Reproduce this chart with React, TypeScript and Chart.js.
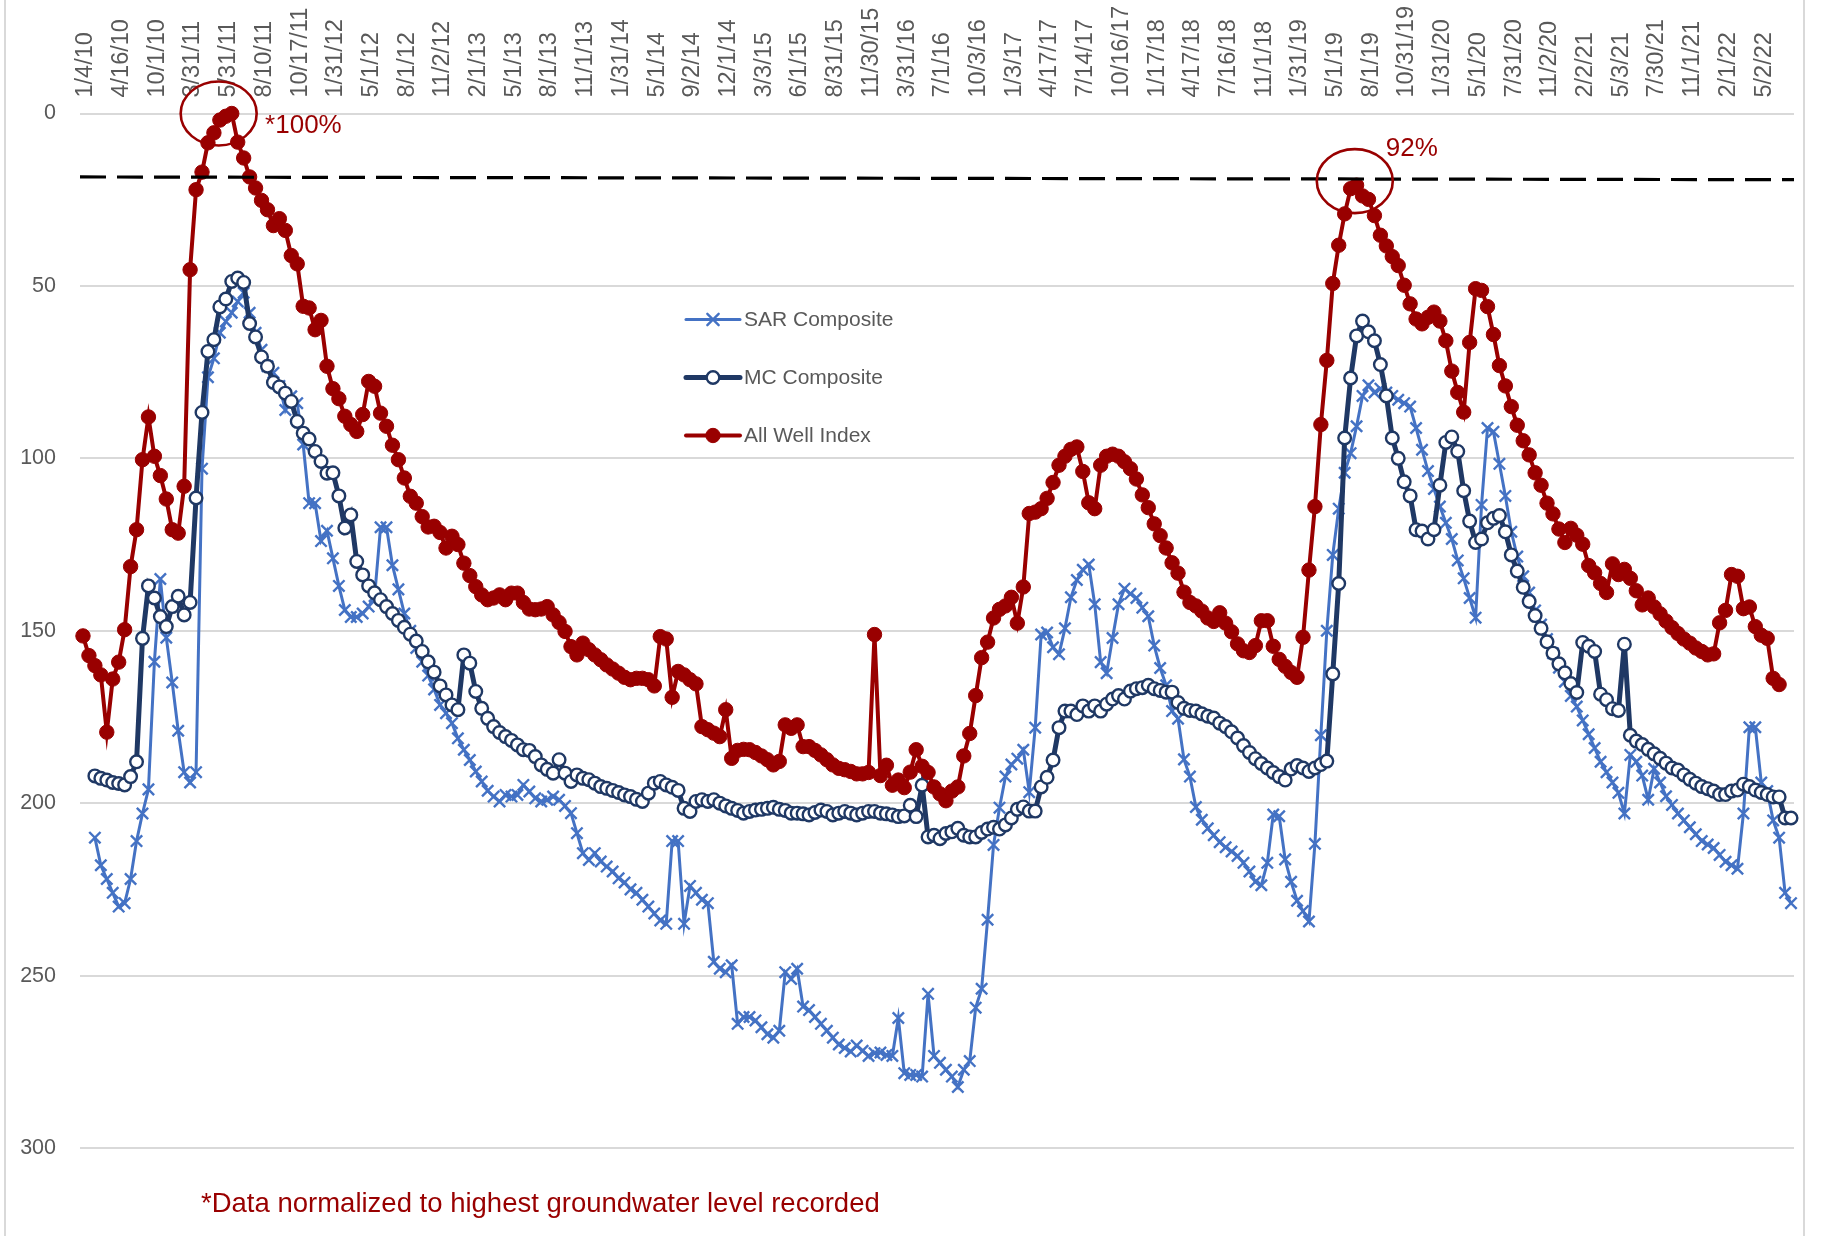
import React, { useEffect, useRef } from 'react';
import { Chart, registerables } from 'chart.js';

Chart.register(...registerables);

// ---------- DATA ----------
const tickLabels = [
  '1/4/10', '4/16/10', '10/1/10', '3/31/11', '5/31/11', '8/10/11', '10/17/11', '1/31/12',
  '5/1/12', '8/1/12', '11/2/12', '2/1/13', '5/1/13', '8/1/13', '11/1/13', '1/31/14',
  '5/1/14', '9/2/14', '12/1/14', '3/3/15', '6/1/15', '8/31/15', '11/30/15', '3/31/16',
  '7/1/16', '10/3/16', '1/3/17', '4/17/17', '7/14/17', '10/16/17', '1/17/18', '4/17/18',
  '7/16/18', '11/1/18', '1/31/19', '5/1/19', '8/1/19', '10/31/19', '1/31/20', '5/1/20',
  '7/31/20', '11/2/20', '2/2/21', '5/3/21', '7/30/21', '11/1/21', '2/1/22', '5/2/22',
];
const pointsPerTick = 6;

const sarComposite: (number | null)[] = [
  null, null, 210, 218, 222, 226, 230, 229, 222, 211, 203, 196,
  159, 135, 152, 165, 179, 191, 194, 191, 103, 76.5, 71, 63.6,
  60.3, 57.8, 54.5, 52, 57.8, 63.6, 68.5, 73.3, 75.2, 79, 86, 82,
  84, 96, 113, 113, 124, 121, 129, 137, 144, 146, 146, 145,
  143, 140, 120, 120, 131, 138, 145, 150, 155, 159, 163, 167,
  171.5, 173.9, 176.8, 181.2, 184.5, 187.5, 190.8, 193.7, 196.4, 198.1, 199.5, 197.6,
  198.1, 197.6, 194.7, 196.6, 198.6, 199.5, 199, 198.1, 199, 200.8, 202.9, 208.7,
  214.5, 216.5, 214.5, 216.9, 218.4, 219.8, 221.8, 223, 225, 226, 228, 230,
  232, 234, 235, 211, 211, 235, 224, 226, 228, 229, 246, 248,
  249, 247, 264, 262, 262, 263, 265, 267, 268, 266, 249, 251,
  248, 259, 260, 262, 264, 266, 268, 270, 271, 272, 270.3, 271.8,
  273.3, 272.5, 272.3, 273, 273.3, 262.3, 278.3, 278.8, 278.8, 279.3, 255.3, 273.3,
  275.3, 277.3, 279.3, 282.3, 277.3, 274.8, 259.3, 253.8, 233.8, 212.1, 201.3, 192.3,
  188.8, 187.1, 184.5, 196.8, 178.1, 151.1, 150.5, 154.8, 156.8, 149.3, 140.3, 135.3,
  132.3, 130.8, 142.3, 159.1, 162.3, 152.1, 142.3, 137.8, 139.3, 140.5, 143.3, 145.8,
  154.3, 160.8, 165.8, 173.3, 175.5, 187.3, 192.3, 201.1, 204.8, 207.3, 209.3, 211.3,
  212.8, 214, 215.3, 217.3, 219.8, 222.8, 223.8, 217.3, 203.3, 203.8, 216.3, 222.8,
  228.3, 231.3, 234.3, 211.8, 180.3, 150, 128, 114.6, 104.2, 98.5, 90.7, 81.9,
  78.8, 80.9, 79.8, 80.9, 81.9, 83, 84, 85, 91.2, 97.5, 103.7, 108.9,
  114, 118.7, 123.4, 129.6, 134.8, 140.5, 146.2, 113.5, 91.2, 92.3, 101.6, 110.9,
  121.3, 128.5, 134.2, 138.9, 144.1, 148.2, 152.4, 156.5, 160.7, 164.8, 168.9, 172,
  176, 180, 184, 188, 191, 194, 197, 203, 186, 188, 192, 199,
  190, 194, 198, 200.5, 203, 205, 207, 209, 211, 212, 213, 215,
  217, 218, 219, 203, 178, 178, 194, 196.5, 205, 210, 226, 229,
];

const mcComposite: (number | null)[] = [
  null, null, 192.1, 192.8, 193.3, 194, 194.3, 194.7, 192.3, 188, 152.2, 137,
  140.5, 145.9, 148.8, 143, 140, 145.4, 141.8, 111.5, 86.7, 69, 65.6, 56.1,
  53.8, 48.7, 47.7, 49, 60.9, 64.8, 70.6, 73.3, 78, 79.3, 81.1, 83.5,
  89.3, 92.7, 94.4, 98, 100.9, 104.3, 104.2, 110.9, 120.2, 116.4, 129.9, 133.8,
  137, 139, 141, 143, 145, 147, 149, 151, 153, 156, 159, 162,
  166, 168.6, 171.5, 172.9, 157, 159.4, 167.6, 172.5, 175.4, 177.8, 179.5, 180.7,
  181.8, 183.1, 184.5, 184.7, 186.5, 188.9, 190.2, 191.3, 187.4, 191.3, 193.7, 191.8,
  192.8, 193.2, 194.2, 195.2, 195.7, 196.3, 196.9, 197.6, 198.1, 198.9, 199.5, 197.1,
  194.2, 193.7, 194.7, 195.4, 196.3, 201.5, 202.4, 199.5, 199, 199.5, 199, 200,
  200.8, 201.5, 202.1, 202.9, 202.4, 202, 201.8, 201.5, 201.2, 201.8, 202.1, 202.9,
  202.9, 203.1, 203.4, 202.7, 202, 202.4, 203.4, 202.9, 202.4, 202.9, 203.4, 202.9,
  202.4, 202.4, 202.9, 203.1, 203.4, 203.9, 203.7, 200.6, 203.9, 194.8, 209.8, 209.3,
  210.3, 208.8, 208.3, 207.3, 209.3, 209.8, 209.8, 208.5, 207.5, 207, 207.5, 206.3,
  204.3, 201.8, 201.1, 202.3, 202.3, 195.3, 192.5, 187.5, 178.1, 173.3, 173.3, 174.3,
  171.8, 173.3, 171.8, 173.3, 171.3, 169.8, 168.8, 169.8, 167.5, 166.8, 166.5, 165.8,
  166.8, 167.3, 167.8, 167.8, 170.8, 172.5, 173.1, 173.3, 174.1, 174.8, 175.3, 176.8,
  177.8, 179.3, 181.1, 183.3, 185.3, 187.1, 188.5, 189.8, 191.1, 192.3, 193.3, 190.1,
  189.1, 189.8, 190.8, 189.8, 188.8, 187.8, 162.5, 136.3, 94.1, 76.7, 64.5, 60.2,
  63.3, 65.9, 72.8, 81.9, 94.1, 100, 106.8, 110.9, 120.7, 121.1, 123.4, 120.7,
  107.8, 95.4, 93.8, 98, 109.4, 118.2, 124.4, 123.4, 118.7, 117.4, 116.6, 121.3,
  128, 132.7, 137.4, 141.5, 145.6, 149.3, 153.2, 156.5, 159.6, 162.2, 165.3, 167.9,
  153.4, 154.5, 156, 168.4, 170, 172.6, 173.1, 153.9, 180.3, 182, 183, 184.4,
  185.7, 187, 188.4, 189.8, 190.4, 191.8, 193.1, 194.2, 195.2, 195.8, 196.5, 197.5,
  197.5, 196.5, 196.2, 194.5, 195.2, 196.2, 196.9, 197.5, 198.2, 198.2, 204.3, 204.3,
];

const allWellIndex: (number | null)[] = [
  151.5, 157.2, 160.1, 162.8, 179.4, 164, 159.1, 149.7, 131.4, 120.7, 100.4, 88,
  99.4, 105, 111.8, 120.7, 121.7, 108.1, 45.3, 22.1, 17, 8.5, 5.6, 1.9,
  0.8, 0, 8.3, 12.9, 18.4, 21.6, 25.2, 27.9, 32.5, 30.5, 33.9, 41.2,
  43.6, 55.9, 56.4, 62.7, 60, 73.3, 79.8, 82.7, 87.8, 90.2, 92.2, 87.3,
  77.7, 79.1, 86.9, 90.7, 96.2, 100.4, 105.7, 111, 113, 116.9, 119.9, 119.7,
  121.5, 126, 122.6, 125, 130.4, 134, 137.2, 139.6, 141, 140.5, 139.6, 141,
  139.1, 139.1, 141.8, 143.7, 143.9, 143.7, 143, 145.4, 147.6, 150.2, 154.6, 157,
  153.6, 155.5, 157, 158.4, 159.9, 161.1, 162.3, 163.5, 164.2, 163.8, 163.8, 164.2,
  166, 151.7, 152.4, 169.3, 161.8, 162.8, 164.2, 165.4, 177.8, 178.7, 179.7, 180.7,
  172.9, 187, 184.7, 184.4, 184.5, 185.3, 186.3, 187.4, 188.9, 187.9, 177.3, 178.3,
  177.3, 183.6, 183.6, 184.7, 186, 187.4, 188.9, 189.9, 190.3, 190.8, 191.5, 191.5,
  191.1, 151.1, 192, 189, 194.8, 193.3, 195.5, 191, 184.5, 189.3, 191.1, 195.3,
  197.3, 199.3, 196.5, 195.3, 186.3, 179.8, 168.8, 157.8, 153.3, 146.3, 143.8, 142.8,
  140.3, 147.8, 137.3, 116, 115.6, 114.6, 111.6, 107, 102, 99.4, 97.4, 96.7,
  103.8, 112.9, 114.6, 102, 99.4, 98.8, 99.4, 101, 103, 106, 110.6, 114.3,
  119, 122.4, 126, 130.3, 133.3, 138.8, 141.8, 142.8, 144.3, 146.3, 147.3, 144.8,
  147.8, 150.3, 153.8, 155.8, 156.3, 154.3, 147.1, 147.1, 154.5, 158.3, 160.3, 162.1,
  163.5, 151.9, 132.4, 114, 90.2, 71.6, 49.3, 38.2, 29.1, 21.8, 20.8, 23.9,
  24.9, 29.6, 35.3, 38.4, 41.5, 44.1, 49.8, 55.2, 59.6, 61, 59.1, 57.6,
  60.2, 65.9, 74.7, 80.9, 86.6, 66.4, 50.8, 51.3, 56, 64.1, 73.1, 79,
  85, 90.4, 94.9, 99, 104.2, 107.8, 113, 116.1, 120.5, 124.4, 120.3, 122.3,
  124.9, 131.1, 133.2, 136.3, 138.9, 130.6, 133.7, 132.2, 134.8, 138.4, 142.5, 140.5,
  143.1, 145.1, 147.2, 149.1, 150.8, 152.4, 153.6, 155, 156, 157, 156.7, 147.7,
  144.1, 133.7, 134.2, 143.6, 143.1, 148.8, 151.3, 152.2, 163.8, 165.6, null, null,
];

const categories = allWellIndex.map((_, i) =>
  i % pointsPerTick === 0 ? tickLabels[i / pointsPerTick] ?? '' : ''
);

// reference line (value at left and right edge of plot)
const thresholdLine = [18.4, 19.2];
// highlight ellipses: centre in (category index, value), radii in px
const highlightCircles = [
  { index: 22.8, value: 0, rx: 38, ry: 32 },
  { index: 213.7, value: 19.6, rx: 38, ry: 32 },
];
const annotationTexts = [
  { text: '*100%', index: 30.6, value: 3.5 },
  { text: '92%', index: 218.9, value: 10.3 },
];
const footnote = '*Data normalized to highest groundwater level recorded';

// ---------- STYLE ----------
const RED = '#990000';
const NAVY = '#1F3864';
const BLUE = '#4472C4';
const TEXT = '#595959';
const FONT = "'Liberation Sans', Arial, sans-serif";

const W = 1824;
const H = 1236;

function drawMarker(ctx: CanvasRenderingContext2D, style: string, x: number, y: number, r: number, stroke: string, fill: string, bw: number) {
  ctx.save();
  ctx.lineWidth = bw;
  ctx.strokeStyle = stroke;
  ctx.fillStyle = fill;
  if (style === 'crossRot') {
    const d = r * Math.SQRT1_2;
    ctx.beginPath();
    ctx.moveTo(x - d, y - d);
    ctx.lineTo(x + d, y + d);
    ctx.moveTo(x + d, y - d);
    ctx.lineTo(x - d, y + d);
    ctx.stroke();
  } else {
    ctx.beginPath();
    ctx.arc(x, y, r, 0, Math.PI * 2);
    ctx.fill();
    ctx.stroke();
  }
  ctx.restore();
}

const overlayPlugin = {
  id: 'overlay',
  afterDatasetsDraw(chart: any) {
    const { ctx, chartArea, scales } = chart;
    const xs = scales.x;
    const ys = scales.y;
    const step = xs.getPixelForValue(1) - xs.getPixelForValue(0);
    const px = (idx: number) => xs.getPixelForValue(0) + idx * step;
    ctx.save();
    // dashed threshold
    ctx.strokeStyle = '#000000';
    ctx.lineWidth = 3.2;
    ctx.setLineDash([26, 11]);
    ctx.beginPath();
    ctx.moveTo(chartArea.left, ys.getPixelForValue(thresholdLine[0]));
    ctx.lineTo(chartArea.right, ys.getPixelForValue(thresholdLine[1]));
    ctx.stroke();
    ctx.setLineDash([]);
    // ellipses
    ctx.strokeStyle = RED;
    ctx.lineWidth = 2.6;
    highlightCircles.forEach((c) => {
      ctx.beginPath();
      ctx.ellipse(px(c.index), ys.getPixelForValue(c.value), c.rx, c.ry, 0, 0, Math.PI * 2);
      ctx.stroke();
    });
    // annotation texts
    ctx.fillStyle = RED;
    ctx.font = `26px ${FONT}`;
    ctx.textAlign = 'left';
    ctx.textBaseline = 'middle';
    annotationTexts.forEach((t) => {
      ctx.fillText(t.text, px(t.index), ys.getPixelForValue(t.value));
    });
    // legend
    const lx = 686;
    const ly = 319.5;
    const gap = 58;
    const lineLen = 54;
    ctx.font = `21px ${FONT}`;
    chart.data.datasets.forEach((ds: any, i: number) => {
      const y = ly + i * gap;
      ctx.strokeStyle = ds.borderColor;
      ctx.lineWidth = ds.borderWidth;
      ctx.lineCap = 'round';
      ctx.beginPath();
      ctx.moveTo(lx, y);
      ctx.lineTo(lx + lineLen, y);
      ctx.stroke();
      drawMarker(ctx, ds.pointStyle, lx + lineLen / 2, y, ds.pointRadius, ds.pointBorderColor, ds.pointBackgroundColor, ds.pointBorderWidth);
      ctx.fillStyle = TEXT;
      ctx.fillText(ds.label, lx + lineLen + 4, y + 1);
    });
    ctx.restore();
  },
};

export default function App() {
  const canvasRef = useRef<HTMLCanvasElement | null>(null);

  useEffect(() => {
    if (!canvasRef.current) return;
    const chart = new Chart(canvasRef.current, {
      type: 'line',
      data: {
        labels: categories,
        datasets: [
          {
            label: 'SAR Composite',
            data: sarComposite,
            borderColor: BLUE,
            borderWidth: 3,
            pointStyle: 'crossRot',
            pointRadius: 8,
            pointBorderColor: BLUE,
            pointBackgroundColor: BLUE,
            pointBorderWidth: 2.4,
            order: 3,
            clip: false,
            tension: 0,
          } as any,
          {
            label: 'MC Composite',
            data: mcComposite,
            borderColor: NAVY,
            borderWidth: 5,
            pointStyle: 'circle',
            pointRadius: 6.3,
            pointBorderColor: NAVY,
            pointBackgroundColor: '#ffffff',
            pointBorderWidth: 2.4,
            order: 2,
            clip: false,
            tension: 0,
          } as any,
          {
            label: 'All Well Index',
            data: allWellIndex,
            borderColor: RED,
            borderWidth: 4,
            pointStyle: 'circle',
            pointRadius: 7.2,
            pointBorderColor: RED,
            pointBackgroundColor: RED,
            pointBorderWidth: 1,
            order: 1,
            clip: false,
            tension: 0,
          } as any,
        ],
      },
      options: {
        animation: false,
        responsive: false,
        maintainAspectRatio: false,
        devicePixelRatio: 1,
        events: [],
        layout: { padding: { left: 0, right: 30, top: 0, bottom: 88 } },
        plugins: {
          legend: { display: false },
          tooltip: { enabled: false },
        },
        scales: {
          x: {
            position: 'top',
            offset: true,
            grid: { display: false, drawTicks: false },
            border: { display: false },
            ticks: {
              autoSkip: false,
              minRotation: 90,
              maxRotation: 90,
              padding: 16,
              labelOffset: 31,
              color: TEXT,
              font: { family: FONT, size: 23.5 },
            },
            afterFit: (scale: any) => {
              scale.height = 113.5;
            },
          },
          y: {
            reverse: true,
            min: 0,
            max: 300,
            ticks: {
              stepSize: 50,
              padding: 24,
              color: TEXT,
              font: { family: FONT, size: 21.5 },
            },
            grid: { color: '#d9d9d9', lineWidth: 2, drawTicks: false },
            border: { display: false },
            afterFit: (scale: any) => {
              scale.width = 80;
            },
          },
        },
      },
      plugins: [overlayPlugin],
    });
    return () => chart.destroy();
  }, []);

  return (
    <div style={{ position: 'absolute', left: 0, top: 0, width: W, height: H, background: '#ffffff' }}>
      <canvas ref={canvasRef} width={W} height={H} style={{ width: W, height: H, display: 'block' }} />
      <div style={{ position: 'absolute', left: 4, top: 0, width: 1801, height: H, borderLeft: '2px solid #d9d9d9', borderRight: '2px solid #d9d9d9', boxSizing: 'border-box', pointerEvents: 'none' }} />
      <div
        style={{
          position: 'absolute',
          left: 201,
          top: 1187,
          height: 32,
          lineHeight: '32px',
          fontFamily: FONT,
          fontSize: 27.5,
          color: RED,
          whiteSpace: 'nowrap',
        }}
      >
        {footnote}
      </div>
    </div>
  );
}
